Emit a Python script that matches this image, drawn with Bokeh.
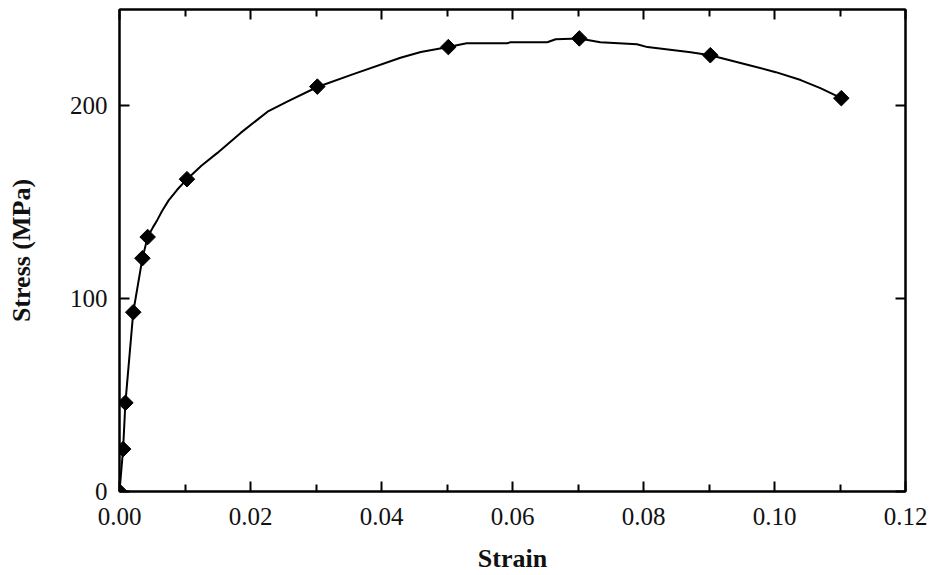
import math
from bokeh.plotting import figure
from bokeh.models import LinearAxis, FixedTicker, Range1d
from bokeh.embed import file_html
from bokeh.resources import INLINE

# Marked data points
strain = [0.0, 0.00055, 0.0009, 0.0021, 0.0035, 0.0043, 0.0103, 0.0302, 0.0502, 0.0702, 0.0902, 0.1102]
stress = [0, 22, 46, 93, 121, 132, 162, 210, 230.5, 235, 226.3, 204]

# Smooth curve traced through the points
curve_strain = [0.0, 0.00055, 0.0009, 0.0021, 0.0035, 0.0043, 0.0051, 0.0058, 0.0065, 0.0075,
                0.0088, 0.0103, 0.0125, 0.0149, 0.0185, 0.0226, 0.0256, 0.0302, 0.0357, 0.0429,
                0.046, 0.0502, 0.053, 0.0592, 0.0597, 0.0653, 0.0666, 0.0702, 0.0734, 0.079,
                0.0806, 0.0872, 0.0902, 0.0963, 0.1002, 0.104, 0.107, 0.1102]
curve_stress = [0, 22, 46, 93, 121, 132, 137, 141, 145.5, 151,
                156.5, 162, 169, 175.5, 186, 197, 202.2, 209.8, 216.5, 225,
                228, 230.5, 232.5, 232.5, 233, 233, 234.6, 235, 233, 232,
                230.5, 227.8, 226.3, 221, 217.5, 213.4, 209.2, 204]

x_major = [0.0, 0.02, 0.04, 0.06, 0.08, 0.10, 0.12]
x_minor = [0.01, 0.03, 0.05, 0.07, 0.09, 0.11]
y_major = [0, 100, 200]

p = figure(width=932, height=575, output_backend="svg", toolbar_location=None,
           x_range=Range1d(0, 0.12), y_range=Range1d(0, 250),
           x_axis_type=None, y_axis_type=None,
           min_border_left=119, min_border_right=27, min_border_top=9, min_border_bottom=83)
p.grid.visible = False
p.outline_line_color = "black"
p.outline_line_width = 2
p.background_fill_color = "white"
p.border_fill_color = "white"

font = "Liberation Serif"

def style(ax, labels=True):
    ax.axis_line_width = 2
    ax.axis_line_color = "black"
    ax.major_tick_in = 10
    ax.major_tick_out = 0
    ax.minor_tick_in = 7
    ax.minor_tick_out = 0
    ax.major_tick_line_width = 2
    ax.minor_tick_line_width = 2
    ax.major_tick_line_color = "black"
    ax.minor_tick_line_color = "black"
    ax.major_label_text_font = font
    ax.major_label_text_font_size = "25px"
    ax.major_label_text_color = "#111111"
    ax.axis_label_text_font = font
    ax.axis_label_text_font_style = "bold"
    ax.axis_label_text_font_size = "26px"
    ax.axis_label_text_color = "#111111"
    if not labels:
        ax.major_label_text_font_size = "0px"
        ax.major_label_text_alpha = 0

xb = LinearAxis(ticker=FixedTicker(ticks=x_major, minor_ticks=x_minor), axis_label="Strain")
style(xb)
xb.major_label_standoff = 16
xb.axis_label_standoff = 16
xb.major_label_overrides = {0.0: "0.00", 0.02: "0.02", 0.04: "0.04", 0.06: "0.06",
                            0.08: "0.08", 0.10: "0.10", 0.12: "0.12"}
p.add_layout(xb, "below")

xt = LinearAxis(ticker=FixedTicker(ticks=x_major, minor_ticks=x_minor))
style(xt, labels=False)
p.add_layout(xt, "above")

yl = LinearAxis(ticker=FixedTicker(ticks=y_major), axis_label="Stress (MPa)")
style(yl)
yl.major_label_standoff = 12
yl.axis_label_standoff = 31
p.add_layout(yl, "left")

yr = LinearAxis(ticker=FixedTicker(ticks=y_major))
style(yr, labels=False)
p.add_layout(yr, "right")

p.line(curve_strain, curve_stress, line_color="black", line_width=2)
p.scatter(strain, stress, marker="square", angle=math.pi / 4, size=11,
          fill_color="black", line_color="black")

open("out.html", "w").write(file_html(p, INLINE))
